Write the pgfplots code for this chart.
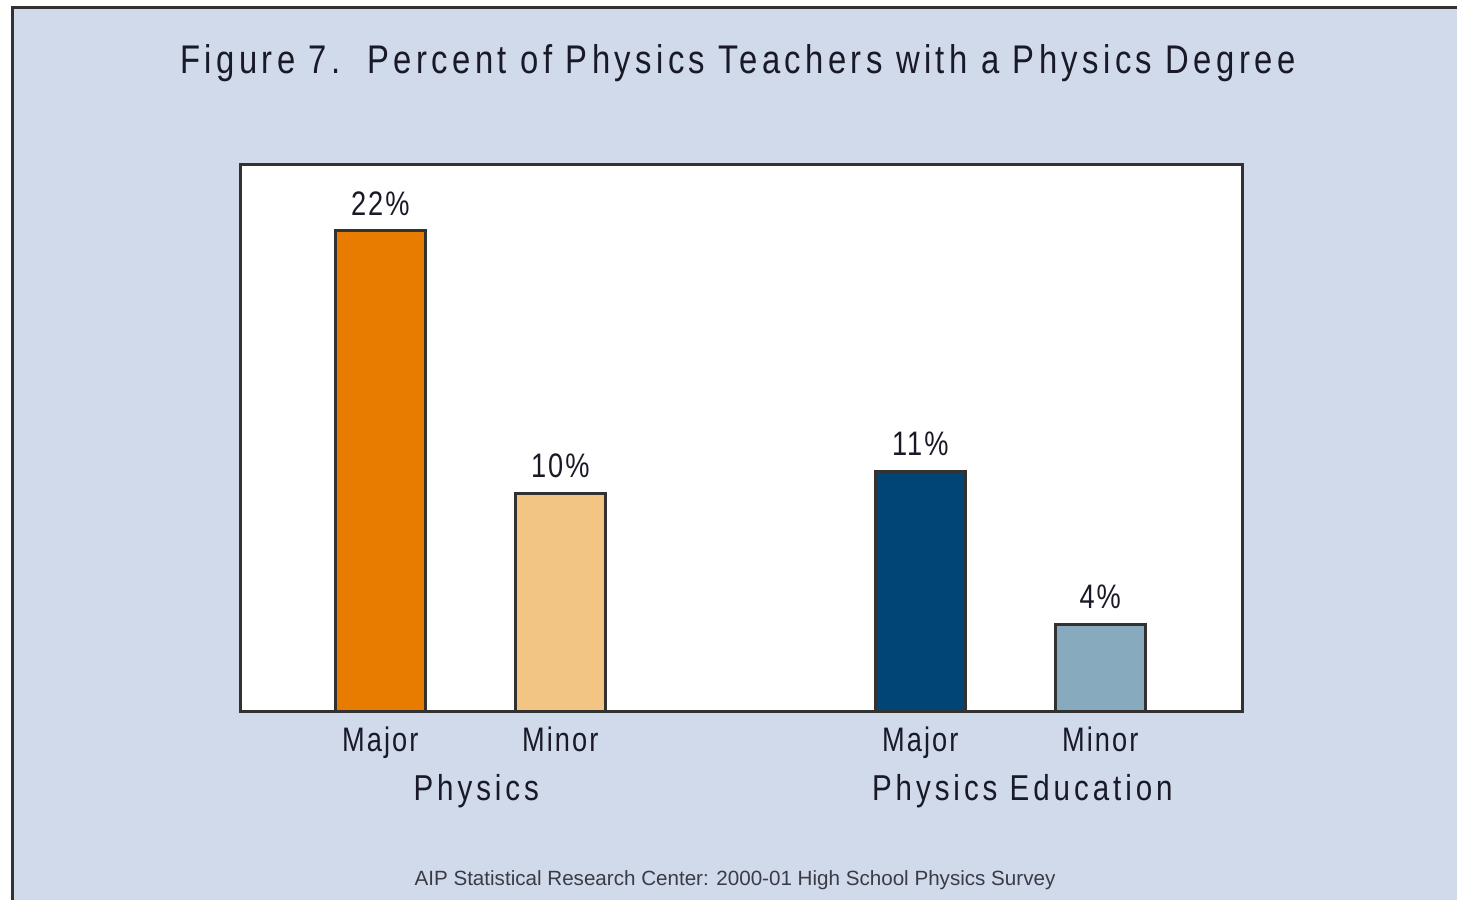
\documentclass[border=0pt]{standalone}
\usepackage{pgfplots}
\pgfplotsset{compat=1.18}
\usepackage{fontspec}
\setmainfont{Liberation Sans}
\newfontfamily\narrowfont[FakeStretch=0.8,LetterSpace=6]{Liberation Sans}
\newfontfamily\widefont[FakeStretch=0.82,LetterSpace=11]{Liberation Sans}
\definecolor{bgblue}{RGB}{208,218,234}
\definecolor{physmaj}{RGB}{232,124,0}
\definecolor{physmin}{RGB}{242,198,130}
\definecolor{edumaj}{RGB}{0,69,118}
\definecolor{edumin}{RGB}{136,170,191}
\definecolor{edge}{RGB}{50,50,50}
\definecolor{txt}{RGB}{25,25,40}
\begin{document}
\begin{tikzpicture}[x=1pt,y=1pt]
\path[use as bounding box, fill=white] (0,0) rectangle (728.5,450);
\fill[bgblue] (6,0) rectangle (728.5,446);
\draw[line width=1.5pt, edge] (6,0) -- (6,446) -- (728.5,446);
\node[txt, font=\widefont\fontsize{20}{23}\selectfont] at (369,418.5)
  {Figure 7.\ \ Percent of Physics Teachers with a Physics Degree};
\begin{axis}[
    at={(133.5,86)}, anchor=south west,
    scale only axis,
    width=501pt, height=273.5pt,
    xmin=-0.778, xmax=4.789,
    ymin=0, ymax=25,
    ytick=\empty,
    xtick={0,1,3,4},
    xticklabels={Major,Minor,Major,Minor},
    major tick length=0pt,
    axis line style={line width=1.5pt, edge},
    axis background/.style={fill=white},
    xticklabel style={txt, font=\narrowfont\fontsize{17}{19}\selectfont, yshift=-4pt},
    ybar, bar shift=0pt, bar width=0.5,
    /pgf/number format/assume math mode=true,
    nodes near coords={\pgfmathprintnumber{\pgfplotspointmeta}\%},
    every node near coord/.append style={txt, font=\narrowfont\fontsize{17}{19}\selectfont, yshift=3.5pt},
    clip=false,
]
\addplot[fill=physmaj, draw=edge, line width=1.5pt] coordinates {(0,22)};
\addplot[fill=physmin, draw=edge, line width=1.5pt] coordinates {(1,10)};
\addplot[fill=edumaj, draw=edge, line width=1.5pt] coordinates {(3,11)};
\addplot[fill=edumin, draw=edge, line width=1.5pt] coordinates {(4,4)};
\node[txt, font=\widefont\fontsize{18}{21}\selectfont] at (axis cs:0.533,0) [yshift=-39.5pt] {Physics};
\node[txt, font=\widefont\fontsize{18}{21}\selectfont] at (axis cs:3.567,0) [yshift=-39.5pt] {Physics Education};
\end{axis}
\node[txt!85, font=\fontsize{10.3}{12}\selectfont] at (367.5,10)
  {AIP Statistical Research Center: 2000-01 High School Physics Survey};
\end{tikzpicture}
\end{document}
